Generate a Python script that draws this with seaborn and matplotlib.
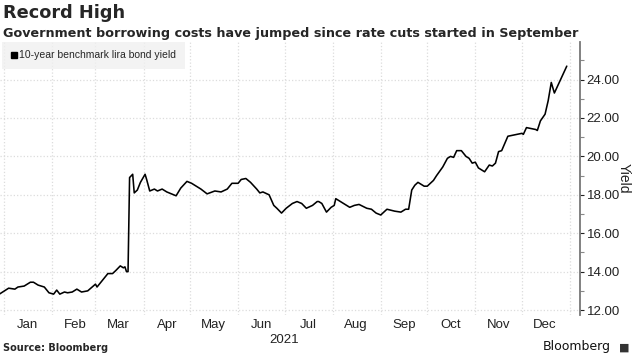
import numpy as np
import pandas as pd
import matplotlib
matplotlib.use("Agg")
import matplotlib.pyplot as plt
import matplotlib.dates as mdates
from matplotlib.lines import Line2D
import seaborn as sns

# Datos (rendimiento bono 10 anos en liras)
fechas = [
    "2020-12-29", "2021-01-04", "2021-01-08", "2021-01-10", "2021-01-14", "2021-01-18",
    "2021-01-20", "2021-01-23", "2021-01-27", "2021-01-30", "2021-02-02", "2021-02-04",
    "2021-02-06", "2021-02-09", "2021-02-11", "2021-02-14", "2021-02-17", "2021-02-20",
    "2021-02-24", "2021-03-01", "2021-03-02", "2021-03-05", "2021-03-09", "2021-03-12",
    "2021-03-14", "2021-03-17", "2021-03-19", "2021-03-20", "2021-03-21", "2021-03-22",
    "2021-03-23", "2021-03-25", "2021-03-26", "2021-03-28", "2021-03-30", "2021-04-02",
    "2021-04-03", "2021-04-05", "2021-04-08", "2021-04-10", "2021-04-13", "2021-04-16",
    "2021-04-19", "2021-04-22", "2021-04-25", "2021-04-29", "2021-05-02", "2021-05-05",
    "2021-05-08", "2021-05-12", "2021-05-17", "2021-05-21", "2021-05-25", "2021-05-28",
    "2021-06-01", "2021-06-03", "2021-06-06", "2021-06-09", "2021-06-13", "2021-06-15",
    "2021-06-17", "2021-06-21", "2021-06-24", "2021-06-26", "2021-06-29", "2021-07-02",
    "2021-07-06", "2021-07-09", "2021-07-12", "2021-07-15", "2021-07-19", "2021-07-22",
    "2021-07-23", "2021-07-25", "2021-07-28", "2021-07-31", "2021-08-02", "2021-08-03",
    "2021-08-06", "2021-08-08", "2021-08-10", "2021-08-12", "2021-08-15", "2021-08-18",
    "2021-08-23", "2021-08-26", "2021-08-29", "2021-09-01", "2021-09-03", "2021-09-05",
    "2021-09-10", "2021-09-14", "2021-09-17", "2021-09-19", "2021-09-21", "2021-09-23",
    "2021-09-25", "2021-09-29", "2021-10-01", "2021-10-05", "2021-10-07", "2021-10-11",
    "2021-10-14", "2021-10-16", "2021-10-18", "2021-10-20", "2021-10-23", "2021-10-26",
    "2021-10-28", "2021-10-30", "2021-11-01", "2021-11-03", "2021-11-07", "2021-11-10",
    "2021-11-12", "2021-11-14", "2021-11-16", "2021-11-18", "2021-11-22", "2021-11-25",
    "2021-11-28", "2021-12-01", "2021-12-02", "2021-12-04", "2021-12-07", "2021-12-10",
    "2021-12-11", "2021-12-13", "2021-12-16", "2021-12-18", "2021-12-20", "2021-12-22",
    "2021-12-30",
]
rendimiento = [
    12.83, 13.14, 13.09, 13.20, 13.25, 13.45,
    13.45, 13.30, 13.20, 12.90, 12.83, 13.04,
    12.83, 12.94, 12.90, 12.94, 13.09, 12.94,
    13.00, 13.35, 13.20, 13.50, 13.90, 13.90,
    14.05, 14.30, 14.20, 14.25, 14.00, 14.00,
    18.90, 19.07, 18.10, 18.25, 18.65, 19.07,
    18.80, 18.20, 18.30, 18.20, 18.30, 18.15,
    18.05, 17.95, 18.35, 18.70, 18.60, 18.45,
    18.30, 18.05, 18.20, 18.15, 18.30, 18.60,
    18.60, 18.80, 18.85, 18.65, 18.30, 18.10,
    18.15, 18.00, 17.45, 17.30, 17.05, 17.30,
    17.55, 17.65, 17.55, 17.30, 17.45, 17.65,
    17.65, 17.55, 17.10, 17.35, 17.45, 17.80,
    17.65, 17.55, 17.45, 17.35, 17.45, 17.50,
    17.30, 17.25, 17.05, 16.95, 17.10, 17.25,
    17.15, 17.10, 17.25, 17.25, 18.25, 18.50,
    18.65, 18.45, 18.45, 18.75, 19.00, 19.45,
    19.90, 20.00, 19.95, 20.30, 20.30, 20.00,
    19.90, 19.65, 19.70, 19.40, 19.20, 19.55,
    19.50, 19.65, 20.25, 20.30, 21.05, 21.10,
    21.15, 21.20, 21.15, 21.50, 21.45, 21.40,
    21.35, 21.85, 22.20, 22.90, 23.85, 23.30,
    24.70,
]
ticks_y = [12, 14, 16, 18, 20, 22, 24]

df = pd.DataFrame({"fecha": pd.to_datetime(fechas), "yield": rendimiento})

sns.set_style("white")
plt.rcParams["font.family"] = ["DejaVu Sans"]
fuente_estrecha = ["Liberation Sans Narrow", "Liberation Sans", "DejaVu Sans"]

fig = plt.figure(figsize=(6.33, 3.57), dpi=100)
ax = fig.add_axes([0.0, 0.118, 0.916, 0.764])

sns.lineplot(data=df, x="fecha", y="yield", ax=ax, color="black", linewidth=1.15)

ax.set_xlim(pd.Timestamp("2020-12-29 10:00"), pd.Timestamp("2022-01-07 10:00"))
ax.set_ylim(11.75, 25.95)

# Rejilla punteada en inicio de cada mes y en cada 2 puntos
ax.xaxis.set_major_locator(mdates.MonthLocator())
ax.xaxis.set_major_formatter(plt.NullFormatter())
ax.xaxis.set_minor_locator(mdates.MonthLocator(bymonthday=16))
ax.xaxis.set_minor_formatter(mdates.DateFormatter("%b"))
ax.tick_params(axis="x", which="major", length=0)
ax.tick_params(axis="x", which="minor", length=0, pad=3, labelsize=9.5, colors="#222222")
for lbl in ax.get_xticklabels(minor=True):
    lbl.set_family(fuente_estrecha)

ax.yaxis.tick_right()
ax.yaxis.set_label_position("right")
ax.set_yticks(ticks_y)
ax.set_yticklabels([f"{v:.2f}" for v in ticks_y])
ax.set_yticks(np.arange(13, 26, 2), minor=True)
ax.tick_params(axis="y", which="major", length=3, width=0.8, pad=2, labelsize=9.5,
               colors="#222222")
ax.tick_params(axis="y", which="minor", length=3, width=0.8, colors="#888888")
for lbl in ax.get_yticklabels():
    lbl.set_family(fuente_estrecha)

ax.grid(True, which="major", color="#dcdcdc", linestyle=":", linewidth=0.9)
for s in ["top", "left", "bottom"]:
    ax.spines[s].set_visible(False)
ax.spines["right"].set_color("#777777")
ax.spines["right"].set_linewidth(1.3)

ax.set_xlabel("")
ax.set_ylabel("Yield", rotation=270, labelpad=8, fontsize=10, color="#222222",
              family=fuente_estrecha)

ax.text(pd.Timestamp("2021-07-01"), -0.07, "2021", transform=ax.get_xaxis_transform(),
        ha="center", va="top", fontsize=9.5, color="#222222", family=fuente_estrecha)

# Leyenda con fondo gris claro
handle = Line2D([], [], marker="s", color="black", linestyle="none", markersize=5)
leg = ax.legend([handle], ["10-year benchmark lira bond yield"], loc="upper left",
                bbox_to_anchor=(0.003, 1.0), borderaxespad=0, frameon=True,
                handletextpad=0.1, handlelength=0.8, borderpad=0.8,
                prop={"family": fuente_estrecha, "size": 7.5})
leg.get_frame().set_facecolor("#f0f0f0")
leg.get_frame().set_edgecolor("none")
leg.get_frame().set_boxstyle("square", pad=0)

fig.text(0.005, 0.99, "Record High", fontsize=12.8, fontweight="bold", va="top", ha="left")
fig.text(0.005, 0.925, "Government borrowing costs have jumped since rate cuts started in September",
         fontsize=9.2, fontweight="bold", va="top", ha="left")
fig.text(0.005, 0.012, "Source: Bloomberg", fontsize=7, fontweight="bold", va="bottom", ha="left")
fig.text(0.965, 0.012, "Bloomberg", fontsize=9, va="bottom", ha="right", color="#111111")
fig.text(0.995, 0.012, "\u25a0", fontsize=8, va="bottom", ha="right", color="#333333")

fig.savefig("out.png", dpi=100)
